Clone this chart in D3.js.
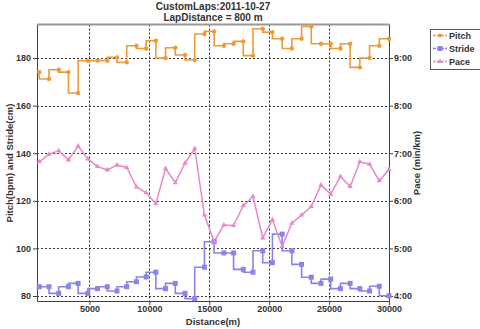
<!DOCTYPE html>
<html lang="en">
<head>
<meta charset="UTF-8">
<title>CustomLaps</title>
<script src="https://d3js.org/d3.v7.min.js"></script>
<style>
  body { margin: 0; background: #fff; }
  svg text { font-family: "Liberation Sans", Arial, sans-serif; fill: #333; }
</style>
</head>
<body>
<svg width="480" height="329"></svg>
<script>
// lap distances (m)
const distance = [811, 1622, 2432, 3243, 4054, 4865, 5676, 6486, 7297, 8108,
  8919, 9730, 10541, 11351, 12162, 12973, 13784, 14595, 15405, 16216,
  17027, 17838, 18649, 19459, 20270, 21081, 21892, 22703, 23514, 24324,
  25135, 25946, 26757, 27568, 28378, 29189, 30000];
// pitch (bpm)
const pitch = [174.1, 171.2, 175.1, 174.1, 165.3, 178.9, 178.9, 178.9, 180.3, 178.2,
  185.2, 184.0, 187.3, 180.0, 184.3, 181.3, 179.2, 190.1, 191.2, 185.2,
  186.0, 187.0, 181.0, 192.3, 190.9, 188.1, 184.0, 188.1, 193.3, 186.0,
  186.0, 184.0, 186.0, 176.1, 180.0, 185.2, 188.1];
// stride (cm)
const stride = [83.9, 83.9, 81.1, 83.9, 85.3, 81.1, 83.1, 83.9, 82.1, 83.9,
  86.0, 88.0, 90.0, 83.1, 85.3, 81.1, 78.9, 92.1, 102.8, 98.1,
  98.1, 91.2, 90.0, 99.0, 94.0, 106.0, 99.0, 93.3, 87.9, 85.3,
  87.1, 83.1, 85.3, 83.1, 82.1, 84.1, 80.1];
// pace (min/km)
const pace = [6.82, 6.98, 7.05, 6.86, 7.15, 6.88, 6.72, 6.65, 6.75, 6.70,
  6.29, 6.17, 5.94, 6.68, 6.38, 6.79, 7.10, 5.70, 5.14, 5.49,
  5.48, 5.90, 6.09, 5.22, 5.60, 5.04, 5.53, 5.70, 5.88, 6.33,
  6.14, 6.51, 6.30, 6.82, 6.77, 6.42, 6.66];

const xTicks = [5000, 10000, 15000, 20000, 25000, 30000];
const leftTicks = [80, 100, 120, 140, 160, 180];
const paceTicks = [4, 5, 6, 7, 8, 9];

const colPitch = "#ee9a38", colStride = "#8a84e8", colPace = "#e888cc";

const pL = 37, pR = 389, pT = 24.5, pB = 301;
const svg = d3.select("svg");

const x = d3.scaleLinear().domain([620, 30000]).range([pL, pR]);
const y = d3.scaleLinear().domain([77.9, 194.1]).range([pB, pT]);
const yp = d3.scaleLinear().domain([3.895, 9.705]).range([pB, pT]);

// grid
const grid = svg.append("g").attr("stroke", "#333").attr("stroke-dasharray", "2,2").attr("stroke-width", 1);
leftTicks.forEach(t => {
  grid.append("line").attr("x1", pL).attr("x2", pR)
    .attr("y1", Math.round(y(t)) + 0.5).attr("y2", Math.round(y(t)) + 0.5);
});
xTicks.forEach(t => {
  grid.append("line").attr("y1", pT).attr("y2", pB)
    .attr("x1", Math.round(x(t)) + 0.5).attr("x2", Math.round(x(t)) + 0.5);
});

// frame
svg.append("line").attr("x1", pL).attr("x2", pR).attr("y1", pT).attr("y2", pT)
  .attr("stroke", "#999").attr("stroke-width", 2);

// axes
const axStyle = g => {
  g.select(".domain").attr("stroke", "#444");
  g.selectAll(".tick line").attr("stroke", "#444");
  g.selectAll(".tick text").style("font-size", "9px").style("font-weight", "bold")
    .attr("fill", "#333").style("font-family", "'Liberation Sans', Arial, sans-serif");
};
svg.append("g").attr("transform", `translate(${pL},0)`)
  .call(d3.axisLeft(y).tickValues(leftTicks).tickSize(4).tickSizeOuter(0).tickPadding(2))
  .call(axStyle);
svg.append("g").attr("transform", `translate(${pR},0)`)
  .call(d3.axisRight(yp).tickValues(paceTicks).tickSize(4).tickSizeOuter(0).tickPadding(1)
    .tickFormat(d => d + ":00"))
  .call(axStyle);
svg.append("g").attr("transform", `translate(0,${pB})`)
  .call(d3.axisBottom(x).tickValues(xTicks).tickSize(4).tickSizeOuter(0).tickPadding(1).tickFormat(d3.format("d")))
  .call(axStyle);

// series
const data = distance.map((d, i) => ({ d, pitch: pitch[i], stride: stride[i], pace: pace[i] }));

const stepLine = key => d3.line().x(p => x(p.d)).y(p => y(p[key])).curve(d3.curveStepBefore);

svg.append("path").datum(data).attr("d", stepLine("pitch"))
  .attr("fill", "none").attr("stroke", colPitch).attr("stroke-width", 1.6);
svg.append("path").datum(data).attr("d", stepLine("stride"))
  .attr("fill", "none").attr("stroke", colStride).attr("stroke-width", 1.6);
svg.append("path").datum(data)
  .attr("d", d3.line().x(p => x(p.d)).y(p => yp(p.pace)))
  .attr("fill", "none").attr("stroke", colPace).attr("stroke-width", 1.5);

svg.append("g").selectAll("circle").data(data).join("circle")
  .attr("cx", p => x(p.d)).attr("cy", p => y(p.pitch)).attr("r", 2.2).attr("fill", colPitch);
svg.append("g").selectAll("rect").data(data).join("rect")
  .attr("x", p => x(p.d) - 2.5).attr("y", p => y(p.stride) - 2.5)
  .attr("width", 5).attr("height", 5).attr("fill", colStride);
svg.append("g").selectAll("path").data(data).join("path")
  .attr("transform", p => `translate(${x(p.d)},${yp(p.pace)})`)
  .attr("d", d3.symbol(d3.symbolTriangle, 12)).attr("fill", colPace);

// titles
svg.append("text").attr("x", 213).attr("y", 10).attr("text-anchor", "middle")
  .style("font-size", "10px").style("font-weight", "bold").text("CustomLaps:2011-10-27");
svg.append("text").attr("x", 213).attr("y", 20.5).attr("text-anchor", "middle")
  .style("font-size", "10px").style("font-weight", "bold").text("LapDistance = 800 m");
svg.append("text").attr("x", 213).attr("y", 325).attr("text-anchor", "middle")
  .style("font-size", "9.5px").style("font-weight", "bold").text("Distance(m)");
svg.append("text").attr("transform", "translate(13,163) rotate(-90)").attr("text-anchor", "middle")
  .style("font-size", "9.5px").style("font-weight", "bold").text("Pitch(bpm) and Stride(cm)");
svg.append("text").attr("transform", "translate(420,163) rotate(-90)").attr("text-anchor", "middle")
  .style("font-size", "9.5px").style("font-weight", "bold").text("Pace (min/km)");

// legend
const lg = svg.append("g");
lg.append("rect").attr("x", 430.5).attr("y", 29.5).attr("width", 50).attr("height", 40)
  .attr("fill", "#fff").attr("stroke", "#555");
const items = [["Pitch", colPitch, "circle"], ["Stride", colStride, "square"], ["Pace", colPace, "triangle"]];
items.forEach((it, i) => {
  const cy = 35.5 + i * 13;
  lg.append("line").attr("x1", 433).attr("x2", 447).attr("y1", cy).attr("y2", cy)
    .attr("stroke", it[1]).attr("stroke-width", 1.4).attr("stroke-dasharray", "3,1");
  if (it[2] === "circle") lg.append("circle").attr("cx", 440).attr("cy", cy).attr("r", 2).attr("fill", it[1]);
  else if (it[2] === "square") lg.append("rect").attr("x", 437.5).attr("y", cy - 2.5).attr("width", 5).attr("height", 5).attr("fill", it[1]);
  else lg.append("path").attr("transform", `translate(440,${cy})`).attr("d", d3.symbol(d3.symbolTriangle, 12)).attr("fill", it[1]);
  lg.append("text").attr("x", 449).attr("y", cy + 3.5).style("font-size", "9px").style("font-weight", "bold").text(it[0]);
});
</script>
</body>
</html>
